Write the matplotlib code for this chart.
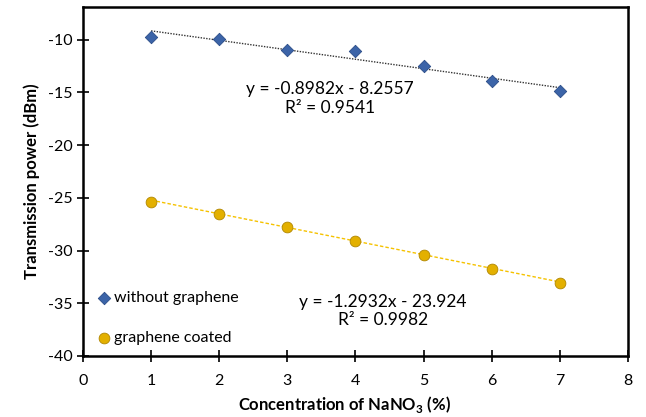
import numpy as np
import matplotlib.pyplot as plt

# concentration of NaNO3 (%) and measured transmission power (dBm)
conc = [1, 2, 3, 4, 5, 6, 7]
without_graphene = [-9.7, -9.95, -10.95, -11.1, -12.45, -13.95, -14.9]
graphene_coated = [-25.4, -26.5, -27.8, -29.05, -30.4, -31.75, -33.1]

# trendline coefficients as printed on the chart
fit_without = [-0.8982, -8.2557]
fit_coated = [-1.2932, -23.924]
r2_without = 0.9541
r2_coated = 0.9982

plt.rcParams['font.family'] = ['Lato', 'DejaVu Sans']
plt.rcParams['axes.unicode_minus'] = False
plt.rcParams['mathtext.fontset'] = 'custom'
plt.rcParams['mathtext.rm'] = 'Lato'
plt.rcParams['mathtext.bf'] = 'Lato:bold'

fig = plt.figure(figsize=(6.46, 4.17), dpi=100)
ax = fig.add_axes([0.1285, 0.1463, 0.8435, 0.8367])

x = np.array(conc)
ax.plot(x, np.polyval(fit_without, x), color='#333333', linestyle=(0, (1, 1)), linewidth=1.0, zorder=2)
ax.plot(x, np.polyval(fit_coated, x), color='#F5C200', linestyle=(0, (2.5, 1.5)), linewidth=1.0, zorder=2)

ax.scatter(conc, without_graphene, marker='D', s=40, color='#3C64A8', edgecolor='#2A4C88',
           linewidth=0.6, label='without graphene', zorder=3)
ax.scatter(conc, graphene_coated, marker='o', s=60, color='#E3B000', edgecolor='#B08600',
           linewidth=0.6, label='graphene coated', zorder=3)

ax.text(3.63, -15.6, 'y = -0.8982x - 8.2557\nR² = %.4f' % r2_without, ha='center', va='center',
        fontsize=12.5, linespacing=1.2, multialignment='center')
ax.text(4.40, -35.75, 'y = -1.2932x - 23.924\nR² = %.4f' % r2_coated, ha='center', va='center',
        fontsize=12.5, linespacing=1.2, multialignment='center')

ax.set_xlim(0, 8)
ax.set_ylim(-40, -6.9)
ax.set_xticks(range(0, 9))
ax.set_yticks([-40, -35, -30, -25, -20, -15, -10])
ax.tick_params(direction='inout', length=8, width=1.2, labelsize=11.5)
ax.tick_params(axis='x', pad=9)
for s in ax.spines.values():
    s.set_linewidth(1.8)

ax.set_xlabel(r'Concentration of NaNO$_\mathbf{3}$ (%)', fontsize=12, fontweight='bold')
ax.set_ylabel('Transmission power (dBm)', fontsize=12, fontweight='bold', labelpad=6)
ax.xaxis.set_label_coords(0.48, -0.108)

ax.legend(loc='lower left', bbox_to_anchor=(0.0, 0.0), frameon=False, fontsize=11.5,
          handletextpad=0.05, labelspacing=1.6, handlelength=1.2, borderaxespad=0.3)

fig.savefig('out.png', dpi=100)
